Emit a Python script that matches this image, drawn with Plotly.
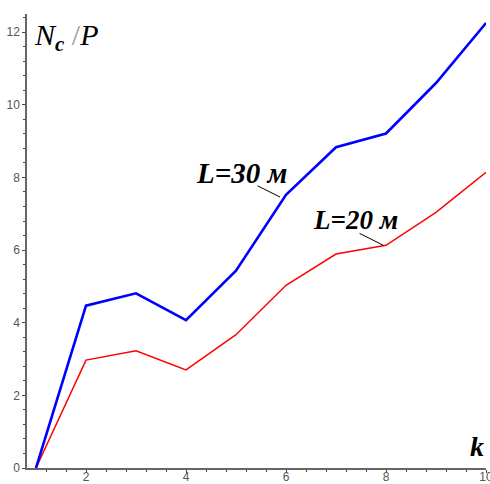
import plotly.graph_objects as go

k = [1, 2, 3, 4, 5, 6, 7, 8, 9, 10]
nc_L30 = [0.0, 4.47, 4.81, 4.07, 5.43, 7.52, 8.83, 9.21, 10.6, 12.25]
nc_L20 = [0.0, 2.97, 3.23, 2.70, 3.67, 5.03, 5.89, 6.13, 7.04, 8.14]
x_ticks = [2, 4, 6, 8, 10]
y_ticks = [0, 2, 4, 6, 8, 10, 12]

fig = go.Figure()
fig.add_trace(go.Scatter(x=k, y=nc_L20, mode="lines", line=dict(color="#ff0000", width=1.5), showlegend=False))
fig.add_trace(go.Scatter(x=k, y=nc_L30, mode="lines", line=dict(color="#0000ff", width=2.6), showlegend=False))

axis_common = dict(
    showgrid=False, zeroline=False, showline=True, linecolor="#666666", linewidth=1.5,
    ticks="outside", ticklen=3, tickcolor="#444444", tickwidth=1,
    tickfont=dict(family="Liberation Sans, Arial", size=12, color="#555555"),
    automargin=False, ticklabeloverflow="allow",
)
fig.update_xaxes(range=[0.82, 10], tickvals=x_ticks, ticklabelstandoff=-6, **axis_common)
fig.update_yaxes(range=[0, 12.5], tickvals=y_ticks, **axis_common)
fig.update_xaxes(minor=dict(ticks="outside", ticklen=2, tickcolor="#444444", tick0=0, dtick=0.4, showgrid=False))
fig.update_yaxes(minor=dict(ticks="outside", ticklen=2, tickcolor="#444444", tick0=0, dtick=0.4, showgrid=False))

serif = "Liberation Serif, Times New Roman, serif"
fig.add_annotation(x=0, y=1.0, xref="paper", yref="paper", xanchor="left", yanchor="top",
                   xshift=5, yshift=-2,
                   text="<i>N<sub><b>c</b></sub> </i><span style='color:#999999'>/</span><i>P</i>",
                   showarrow=False, font=dict(family=serif, size=30, color="#000000"))
fig.add_annotation(x=1, y=0, xref="paper", yref="paper", xanchor="right", yanchor="bottom",
                   xshift=0, yshift=4,
                   text="<b><i>k</i></b>", showarrow=False, font=dict(family=serif, size=28, color="#000000"))
fig.add_annotation(x=5.1, y=8.12, xref="x", yref="y", xanchor="center", yanchor="middle",
                   text="<b><i>L=30 м</i></b>", showarrow=False, font=dict(family=serif, size=29, color="#000000"))
fig.add_annotation(x=7.38, y=6.82, xref="x", yref="y", xanchor="center", yanchor="middle",
                   text="<b><i>L=20 м</i></b>", showarrow=False, font=dict(family=serif, size=27, color="#000000"))
fig.add_shape(type="line", x0=5.43, y0=7.77, x1=5.88, y1=7.46, xref="x", yref="y",
              line=dict(color="#000000", width=1))
fig.add_shape(type="line", x0=7.47, y0=6.46, x1=7.95, y1=6.13, xref="x", yref="y",
              line=dict(color="#000000", width=1))

fig.update_layout(
    width=490, height=484,
    margin=dict(l=27, r=4, t=14, b=16),
    paper_bgcolor="white", plot_bgcolor="white",
)
fig.write_html("out.html", post_script="document.body.style.margin='0';",
               config={"displayModeBar": False})
